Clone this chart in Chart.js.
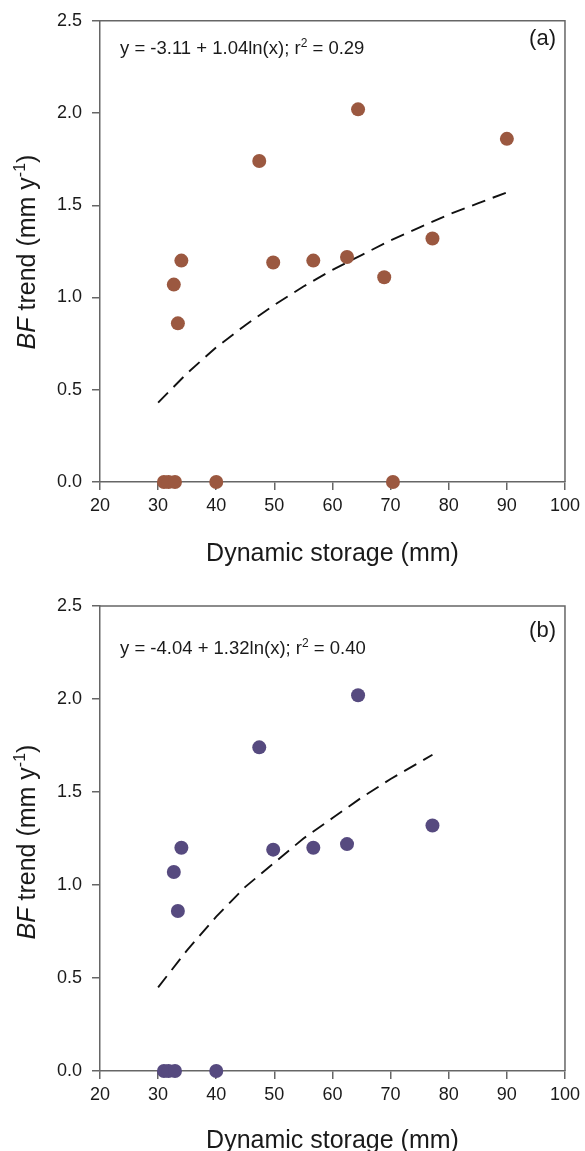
<!DOCTYPE html>
<html><head><meta charset="utf-8">
<script src="https://cdn.jsdelivr.net/npm/chart.js@4.4.0/dist/chart.umd.min.js"></script>
<style>
html,body{margin:0;padding:0;background:#fff;}
.wrap{position:absolute;left:0;width:585px;}
</style></head><body>
<div class="wrap" style="top:0;height:585px"><canvas id="c1" width="585" height="585"></canvas></div>
<div class="wrap" style="top:585px;height:566px"><canvas id="c2" width="585" height="566"></canvas></div>
<script>
// ---- data ----
const xTickValues = [20, 30, 40, 50, 60, 70, 80, 90, 100];
const yTickValues = [0, 0.5, 1.0, 1.5, 2.0, 2.5];

const storageA = [31.0, 31.8, 32.9, 40.0, 32.7, 33.4, 34.0, 47.4, 49.8, 56.7, 62.5, 64.4, 68.9, 70.4, 77.2, 90.0];
const bfTrendA = [0, 0, 0, 0, 1.07, 0.86, 1.20, 1.74, 1.19, 1.20, 1.22, 2.02, 1.11, 0, 1.32, 1.86];

const storageB = [31.0, 31.8, 32.9, 40.0, 32.7, 33.4, 34.0, 47.4, 49.8, 56.7, 62.5, 64.4, 77.2];
const bfTrendB = [0, 0, 0, 0, 1.07, 0.86, 1.20, 1.74, 1.19, 1.20, 1.22, 2.02, 1.32];

const fitXA = [30, 35, 40, 45, 50, 55, 60, 65, 70, 75, 80, 85, 90];
const fitYA = [0.43, 0.59, 0.73, 0.85, 0.96, 1.06, 1.15, 1.23, 1.31, 1.38, 1.45, 1.51, 1.57];

const fitXB = [30, 35, 40, 45, 50, 55, 60, 65, 70, 75, 77.2];
const fitYB = [0.45, 0.65, 0.83, 0.99, 1.12, 1.25, 1.36, 1.47, 1.57, 1.66, 1.70];

const FF = '"Liberation Sans", Arial, Helvetica, sans-serif';
const AXIS_COLOR = '#666666';

function pts(xs, ys){ return xs.map((x,i)=>({x:x, y:ys[i]})); }

function textPlugin(cfg){
  return {
    id: 'texts',
    afterDraw(chart){
      const ctx = chart.ctx, a = chart.chartArea;
      ctx.save();
      // box top/right
      ctx.strokeStyle = AXIS_COLOR; ctx.lineWidth = 1.5;
      ctx.beginPath(); ctx.moveTo(a.left, a.top); ctx.lineTo(a.right, a.top); ctx.lineTo(a.right, a.bottom); ctx.stroke();
      ctx.fillStyle = '#1a1a1a';
      ctx.textBaseline = 'alphabetic';
      // equation
      let x = cfg.eqX;
      ctx.textAlign = 'left';
      ctx.font = '18.5px ' + FF;
      ctx.fillText(cfg.eq1, x, cfg.eqY); x += ctx.measureText(cfg.eq1).width;
      ctx.font = '12px ' + FF;
      ctx.fillText('2', x, cfg.eqY - 7); x += ctx.measureText('2').width;
      ctx.font = '18.5px ' + FF;
      ctx.fillText(cfg.eq2, x, cfg.eqY);
      // panel label
      ctx.textAlign = 'right';
      ctx.font = '22px ' + FF;
      ctx.fillText(cfg.label, cfg.labelX, cfg.labelY);
      // x title
      ctx.textAlign = 'center';
      ctx.font = '25px ' + FF;
      ctx.fillText(cfg.xTitle, (a.left + a.right) / 2, cfg.xTitleY);
      // y title (rotated, mixed style)
      ctx.translate(cfg.yTitleX, cfg.yTitleY);
      ctx.rotate(-Math.PI / 2);
      ctx.textAlign = 'left';
      const parts = [
        {t: 'BF', f: 'italic 25px ' + FF, dy: 0},
        {t: ' trend (mm y', f: '25px ' + FF, dy: 0},
        {t: '-1', f: '16px ' + FF, dy: -10},
        {t: ')', f: '25px ' + FF, dy: 0}
      ];
      let tot = 0;
      parts.forEach(p => { ctx.font = p.f; p.w = ctx.measureText(p.t).width; tot += p.w; });
      let px = -tot / 2;
      parts.forEach(p => { ctx.font = p.f; ctx.fillText(p.t, px, p.dy); px += p.w; });
      ctx.restore();
    }
  };
}

function makeChart(id, H, padTop, chartBottom, xs, ys, fx, fy, color, cfg){
  const axisBase = {
    grid: {drawOnChartArea: false, drawTicks: true, tickLength: 8, color: AXIS_COLOR, lineWidth: 1.5},
    border: {display: true, color: AXIS_COLOR, width: 1.5}
  };
  return new Chart(document.getElementById(id), {
    type: 'scatter',
    data: {
      datasets: [
        {data: pts(xs, ys), backgroundColor: color, borderWidth: 0, pointRadius: 7, pointHoverRadius: 7, clip: false, order: 0},
        {data: pts(fx, fy), showLine: true, borderColor: '#111', borderWidth: 1.9, borderDash: [14, 8], pointRadius: 0, fill: false, order: 1}
      ]
    },
    options: {
      responsive: false, animation: false, devicePixelRatio: 1,
      layout: {padding: {top: padTop, right: 17, left: 0, bottom: 0}},
      plugins: {legend: {display: false}, tooltip: {enabled: false}},
      scales: {
        x: Object.assign({}, axisBase, {
          type: 'linear', min: 20, max: 100,
          afterBuildTicks: s => { s.ticks = xTickValues.map(v => ({value: v})); },
          afterFit: s => { s.height = H - chartBottom; },
          ticks: {font: {size: 18, family: FF}, color: '#1a1a1a', padding: 5, maxRotation: 0, autoSkip: false}
        }),
        y: Object.assign({}, axisBase, {
          type: 'linear', min: 0, max: 2.5,
          afterBuildTicks: s => { s.ticks = yTickValues.map(v => ({value: v})); },
          afterFit: s => { s.width = 100; },
          ticks: {font: {size: 18, family: FF}, color: '#1a1a1a', padding: 10, callback: v => Number(v).toFixed(1)}
        })
      }
    },
    plugins: [textPlugin(cfg)]
  });
}

makeChart('c1', 585, 17, 482, storageA, bfTrendA, fitXA, fitYA, '#9b5840', {
  eq1: 'y = -3.11 + 1.04ln(x); r', eq2: ' = 0.29', eqX: 120, eqY: 54,
  label: '(a)', labelX: 556, labelY: 45,
  xTitle: 'Dynamic storage (mm)', xTitleY: 561,
  yTitleX: 35, yTitleY: 252
});
makeChart('c2', 566, 21, 486, storageB, bfTrendB, fitXB, fitYB, '#564a7f', {
  eq1: 'y = -4.04 + 1.32ln(x); r', eq2: ' = 0.40', eqX: 120, eqY: 69,
  label: '(b)', labelX: 556, labelY: 52,
  xTitle: 'Dynamic storage (mm)', xTitleY: 563,
  yTitleX: 35, yTitleY: 257
});
</script>
</body></html>
